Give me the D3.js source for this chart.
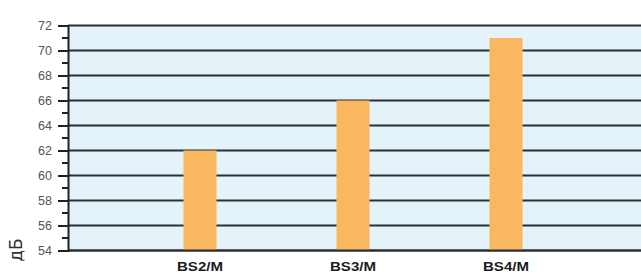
<!DOCTYPE html>
<html>
<head>
  <meta charset="utf-8">
  <script src="https://cdn.jsdelivr.net/npm/d3@7"></script>
  <style>
    body { margin: 0; background: #fff; }
    svg { display: block; }
  </style>
</head>
<body>
  <svg width="641" height="273" id="mainsvg"></svg>
  <script>
    // data
    const categories = ['BS2/M', 'BS3/M', 'BS4/M'];
    const values = [62, 66, 71];
    const majorTicks = [54, 56, 58, 60, 62, 64, 66, 68, 70, 72];
    const minorTicks = [55, 57, 59, 61, 63, 65, 67, 69, 71];
    const unitLabel = 'дБ';

    const svg = d3.select('svg');
    const width = +svg.attr('width');
    const plotLeft = 68, plotTop = 25.5, plotBottom = 250.5;

    const yScale = d3.scaleLinear().domain([54, 72]).range([plotBottom, plotTop]);
    const xScale = d3.scaleBand().domain(categories).range([123.5, 582.5]).paddingInner(0.784).paddingOuter(0.392);

    // plot background
    svg.append('rect')
      .attr('x', plotLeft).attr('y', plotTop)
      .attr('width', width - plotLeft).attr('height', plotBottom - plotTop)
      .attr('fill', '#e4f2f9');

    // grid lines
    svg.append('g').selectAll('line').data(majorTicks).join('line')
      .attr('x1', plotLeft).attr('x2', width)
      .attr('y1', d => yScale(d)).attr('y2', d => yScale(d))
      .attr('stroke', '#2b2f31').attr('stroke-width', 2);

    // bars
    svg.append('g').selectAll('rect').data(values).join('rect')
      .attr('x', (d, i) => xScale(categories[i]))
      .attr('width', xScale.bandwidth())
      .attr('y', d => yScale(d))
      .attr('height', d => plotBottom - yScale(d))
      .attr('fill', '#f9b85f');

    // baseline redrawn over bars
    svg.append('line')
      .attr('x1', plotLeft).attr('x2', width)
      .attr('y1', plotBottom).attr('y2', plotBottom)
      .attr('stroke', '#2b2f31').attr('stroke-width', 2);

    // y axis with major and minor ticks
    const yAxis = d3.axisLeft(yScale).tickValues(majorTicks).tickSize(10).tickPadding(6);
    const yAxisGroup = svg.append('g').attr('transform', `translate(${plotLeft}, 0)`).call(yAxis);
    yAxisGroup.select('.domain').attr('stroke', '#1f2224').attr('stroke-width', 2);
    yAxisGroup.selectAll('.tick line').attr('stroke', '#1f2224').attr('stroke-width', 2);
    yAxisGroup.selectAll('.tick text')
      .attr('font-family', 'Liberation Sans, Arial, sans-serif')
      .attr('font-size', 12.5).attr('fill', '#555');

    svg.append('g').attr('transform', `translate(${plotLeft}, 0)`)
      .selectAll('line').data(minorTicks).join('line')
      .attr('x1', -6).attr('x2', 0)
      .attr('y1', d => yScale(d)).attr('y2', d => yScale(d))
      .attr('stroke', '#1f2224').attr('stroke-width', 2);

    // category labels
    svg.append('g').selectAll('text').data(categories).join('text')
      .attr('x', d => xScale(d) + xScale.bandwidth() / 2)
      .attr('y', 271)
      .attr('text-anchor', 'middle')
      .attr('font-family', 'Liberation Sans, Arial, sans-serif')
      .attr('font-size', 12).attr('font-weight', 'bold').attr('fill', '#1c1c1c')
      .attr('textLength', 46).attr('lengthAdjust', 'spacingAndGlyphs')
      .text(d => d);

    // unit label
    svg.append('text')
      .attr('transform', 'translate(22, 250) rotate(-90)')
      .attr('text-anchor', 'middle')
      .attr('font-family', 'DejaVu Sans, sans-serif')
      .attr('font-size', 17).attr('fill', '#333')
      .text(unitLabel);
  </script>
</body>
</html>
